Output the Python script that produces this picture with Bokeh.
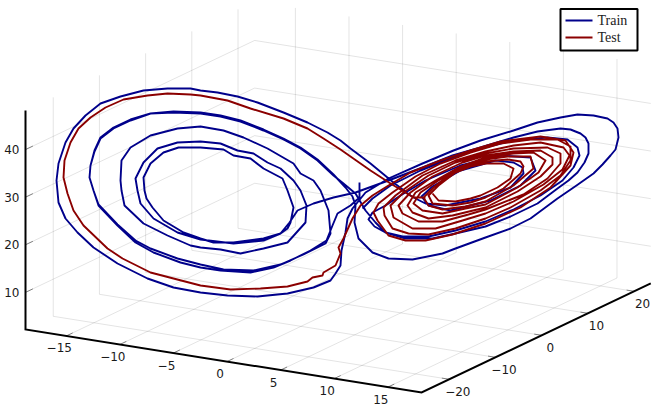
from bokeh.plotting import figure
from bokeh.embed import file_html
from bokeh.resources import INLINE
from bokeh.models import Range1d
from bokeh.core.properties import value

x_ticks = [-15, -10, -5, 0, 5, 10, 15]
y_ticks = [-20, -10, 0, 10, 20]
z_ticks = [10, 20, 30, 40]
x_lim = (-18.8, 18.15)
y_lim = (-26.0, 23.6)
z_lim = (2.2, 48.2)

# Curves, in the plane of the projection
train = [(359,182),(359,197),(350,205),(337,213),(332,225),(326,240),(310,250),(290,260),(273,267),(250,272),(220,270),(200,267),(180,262),(153,252),(135,242),(117,225),(98,205),(93,190),(89,177),(90,165),(94,151),(100,138),(113,128),(130,120),(150,113),(173,112),(200,113),(220,116),(240,121),(263,130),(283,139),(300,148),(317,160),(333,175),(343,183),(355,193),(365,210),(375,222),(385,232),(405,238),(432,238),(455,233),(485,226),(510,216),(537,203),(557,188),(568,180),(577,172),(584,162),(588,153),(588,143),(585,137),(580,133),(570,129),(560,128),(537,131),(513,137),(480,147),(452,155),(422,167),(388,180),(355,192),(333,197),(313,203),(297,210),(289,222),(280,233),(263,238),(233,242),(213,242),(200,238),(183,232),(163,220),(152,207),(146,198),(144,190),(143,177),(150,163),(163,152),(178,147),(200,147),(223,149),(233,155),(250,158),(263,168),(282,178),(287,190),(293,207),(290,222),(287,228),(280,233),(263,240),(233,243),(200,239),(177,232),(153,218),(140,203),(137,190),(135,178),(143,162),(157,148),(177,142),(200,141),(220,143),(237,150),(253,153),(267,162),(280,168),(293,180),(300,190),(306,205),(305,222),(287,242),(263,248),(240,253),(220,249),(200,247),(190,245),(167,235),(143,223),(124,205),(121,190),(120,180),(121,160),(130,147),(150,135),(177,128),(200,126),(223,130),(243,137),(267,148),(293,163),(300,173),(313,180),(320,190),(328,210),(330,233),(325,243),(303,254),(280,264),(253,270),(223,269),(200,264),(177,258),(150,248),(135,240),(117,224),(98,204),(93,190),(89,177),(90,165),(94,150),(100,137),(113,127),(130,119),(150,113),(173,111),(200,112),(220,115),(240,120),(263,129),(283,138),(300,147),(317,159),(333,174),(345,187),(352,196),(355,205),(354,222),(358,238),(372,252),(388,258),(412,259),(442,253),(455,248),(485,237),(510,228),(530,218),(557,198),(576,185),(593,173),(602,164),(610,155),(615,149),(618,137),(617,128),(613,122),(607,118),(593,115),(577,114),(560,117),(537,122),(513,130),(480,140),(453,150),(422,163),(388,178),(365,192),(352,208),(347,218),(345,232),(341,250),(340,265),(335,273),(330,280),(313,287),(287,293),(257,296),(227,295),(200,292),(173,287),(147,278),(117,263),(93,247),(77,232),(65,218),(58,202),(56,180),(58,163),(65,142),(73,128),(85,115),(100,103),(120,96),(143,90),(167,88),(190,88),(200,90),(217,92),(237,96),(257,102),(283,112),(307,122),(327,132),(340,140),(350,148),(370,163),(393,182),(410,195),(417,199),(425,203),(445,205),(480,198),(510,187),(523,173),(522,167),(513,162),(495,160),(460,170),(432,186),(421,196),(428,205),(450,210),(490,200),(520,185),(535,170),(530,157),(500,155),(460,165),(425,180),(400,195),(385,205),(372,212),(368,219),(374,226),(385,232),(402,236),(428,236),(455,230),(485,221),(513,209),(540,195),(562,180),(573,167),(579,155),(577,147),(567,139),(547,137),(513,140),(480,148),(450,158),(420,170),(390,185),(372,198),(362,208)]

test = [(432,193),(438,200),(455,201),(470,198),(480,195),(497,187),(510,178),(513,168),(503,163),(485,163),(470,166),(455,172),(438,185),(428,195),(432,203),(452,205),(470,202),(485,197),(503,188),(520,173),(523,166),(520,161),(507,159),(485,161),(462,168),(448,175),(433,187),(423,197),(428,205),(442,209),(465,206),(485,201),(513,185),(533,168),(530,156),(507,156),(485,159),(462,166),(438,180),(420,192),(413,203),(422,210),(442,213),(465,208),(485,204),(517,187),(538,172),(545,160),(533,152),(513,153),(485,157),(458,167),(435,180),(415,192),(407,205),(412,212),(428,218),(452,215),(485,207),(517,191),(540,176),(552,164),(552,157),(540,150),(513,151),(485,155),(462,162),(432,176),(410,192),(398,205),(402,213),(418,221),(442,221),(468,214),(485,209),(523,194),(547,178),(560,163),(560,153),(547,147),(513,148),(485,153),(455,162),(428,175),(403,192),(390,205),(393,217),(412,228),(435,228),(462,220),(485,213),(513,201),(543,184),(562,169),(569,155),(563,147),(540,142),(513,145),(485,151),(455,160),(422,175),(395,195),(383,207),(384,215),(392,228),(408,233),(428,234),(455,228),(485,218),(510,207),(540,190),(560,175),(570,160),(570,146),(557,139),(530,139),(500,143),(470,152),(440,163),(415,176),(392,192),(378,203),(373,212),(377,220),(388,235),(405,240),(425,240),(452,234),(485,223),(520,207),(550,187),(570,165),(573,152),(565,140),(540,136),(500,141),(470,150),(440,160),(410,172),(388,185),(372,195),(360,205),(352,218),(343,238),(338,247),(340,253),(335,265),(323,272),(322,275),(312,277),(307,281),(287,286),(260,288),(230,289),(200,285),(173,278),(150,272),(122,258),(107,248),(83,225),(73,210),(67,193),(63,177),(64,160),(70,142),(78,128),(90,117),(105,107),(123,99),(147,95),(167,93),(190,94),(200,95),(227,100),(250,108),(283,118),(307,128),(323,138),(340,149),(350,156),(370,170),(390,183),(413,197),(425,197)]

train_u = [q[0] for q in train]
train_v = [q[1] for q in train]
test_u = [q[0] for q in test]
test_v = [q[1] for q in test]

legend_labels = ["Train", "Test"]
train_color = "#00008b"
test_color = "#8b0000"


def project(x, y, z):
    """Fixed view of the box: returns the position on the picture plane."""
    dx, dy, dz = x - x_lim[0], y - y_lim[0], z - z_lim[0]
    return 25 + 10.72 * dx + 4.62 * dy, 329 + 1.705 * dx - 2.2 * dy - 4.76 * dz


p = figure(width=654, height=407, output_backend="svg", toolbar_location=None,
           x_range=Range1d(0, 654), y_range=Range1d(407, 0),
           min_border=0, outline_line_color=None, background_fill_color="white")
p.axis.visible = False
p.grid.visible = False

gx, gy = [], []
for x in x_ticks:
    pts = [project(x, y_lim[0], z_lim[0]), project(x, y_lim[1], z_lim[0]), project(x, y_lim[1], z_lim[1])]
    gx.append([q[0] for q in pts]); gy.append([q[1] for q in pts])
for y in y_ticks:
    pts = [project(x_lim[1], y, z_lim[0]), project(x_lim[0], y, z_lim[0]), project(x_lim[0], y, z_lim[1])]
    gx.append([q[0] for q in pts]); gy.append([q[1] for q in pts])
for z in z_ticks:
    pts = [project(x_lim[0], y_lim[0], z), project(x_lim[0], y_lim[1], z), project(x_lim[1], y_lim[1], z)]
    gx.append([q[0] for q in pts]); gy.append([q[1] for q in pts])
p.multi_line(gx, gy, line_color="#000000", line_alpha=0.11, line_width=1)

tx, ty = [], []
for x in x_ticks:
    a, b = project(x, y_lim[0], z_lim[0]), project(x, y_lim[0] + 1.4, z_lim[0])
    tx.append([a[0], b[0]]); ty.append([a[1], b[1]])
for y in y_ticks:
    a, b = project(x_lim[1], y, z_lim[0]), project(x_lim[1] - 0.7, y, z_lim[0])
    tx.append([a[0], b[0]]); ty.append([a[1], b[1]])
for z in z_ticks:
    a, b = project(x_lim[0], y_lim[0], z), project(x_lim[0], y_lim[0] + 1.6, z)
    tx.append([a[0], b[0]]); ty.append([a[1], b[1]])
p.multi_line(tx, ty, line_color="#000000", line_alpha=0.45, line_width=1)

corners = [project(x_lim[0], y_lim[0], z_lim[1]), project(x_lim[0], y_lim[0], z_lim[0]),
           project(x_lim[1], y_lim[0], z_lim[0]), project(x_lim[1], y_lim[1], z_lim[0])]
p.line([c[0] for c in corners], [c[1] for c in corners], line_color="black", line_width=2, line_join="miter")

p.line(train_u, train_v, line_color=train_color, line_width=1.9, line_join="round")
p.line(test_u, test_v, line_color=test_color, line_width=1.9, line_join="round")


def minus(v):
    return str(v).replace("-", "\u2212")


font = dict(text_font=value("DejaVu Sans"), text_font_size="12px", text_color="#1a1a1a")
xp = [project(x, y_lim[0], z_lim[0]) for x in x_ticks]
p.text([q[0] - 7 for q in xp], [q[1] + 12 for q in xp], text=[minus(v) for v in x_ticks],
       text_align="center", text_baseline="middle", **font)
yp = [project(x_lim[1], y, z_lim[0]) for y in y_ticks]
p.text([q[0] + 8.5 for q in yp], [q[1] + 12 for q in yp], text=[minus(v) for v in y_ticks],
       text_align="center", text_baseline="middle", **font)
zp = [project(x_lim[0], y_lim[0], z) for z in z_ticks]
p.text([19] * len(zp), [q[1] for q in zp], text=[minus(v) for v in z_ticks],
       text_align="right", text_baseline="middle", **font)

# Legend box and its entries
p.quad(left=[560], right=[637], top=[8.5], bottom=[50], fill_color="white", line_color="black", line_width=2)
for row, (label, colour) in zip([20, 37], zip(legend_labels, [train_color, test_color])):
    p.line([565, 592], [row, row], line_color=colour, line_width=1.9)
    p.text([597], [row], text=[label], text_baseline="middle",
           text_font=value("Liberation Serif"), text_font_size="14px", text_color="#222222")

open("out.html", "w").write(file_html(p, INLINE))
